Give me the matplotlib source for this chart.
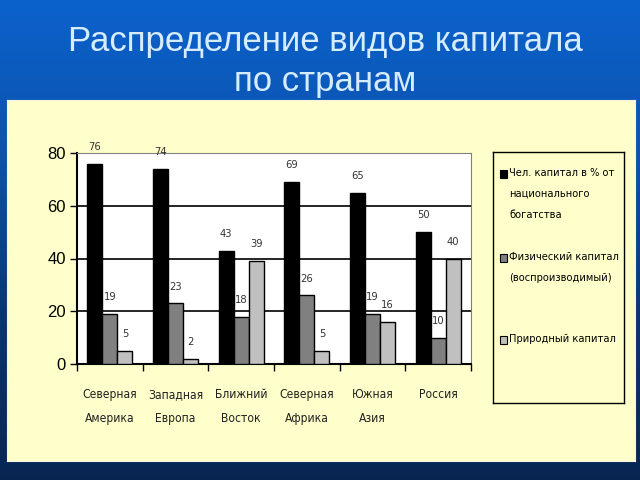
import numpy as np
import matplotlib.pyplot as plt
from matplotlib.patches import Rectangle
from matplotlib.colors import LinearSegmentedColormap
from matplotlib import font_manager

regions = ['Северная\nАмерика', 'Западная\nЕвропа', 'Ближний\nВосток',
           'Северная\nАфрика', 'Южная\nАзия', 'Россия']
human = [76, 74, 43, 69, 65, 50]
physical = [19, 23, 18, 26, 19, 10]
natural = [5, 2, 39, 5, 16, 40]
series_names = ['Чел. капитал в % от\nнационального\nбогатства',
                'Физический капитал\n(воспроизводимый)',
                'Природный капитал']
colors = ['#000000', '#808080', '#c0c0c0']

# pick a narrow face if one is installed (chart text is Arial Narrow-like)
fonts = font_manager.fontManager.ttflist
narrow = dict(family=['Liberation Sans', 'DejaVu Sans'])
scale = 0.72
if any(f.name == 'Liberation Sans Narrow' for f in fonts):
    narrow = dict(family=['Liberation Sans Narrow', 'DejaVu Sans'])
    scale = 0.9
elif any(f.name == 'DejaVu Sans' and f.stretch == 'condensed' for f in fonts):
    narrow = dict(family=['DejaVu Sans'], stretch='condensed')
    scale = 0.75

plt.rcParams['font.family'] = ['Liberation Sans', 'DejaVu Sans']

fig = plt.figure(figsize=(6.4, 4.8), dpi=100)

# blue slide background
bg = fig.add_axes([0, 0, 1, 1])
grad = np.linspace(0, 1, 256).reshape(-1, 1)
cmap = LinearSegmentedColormap.from_list('slide', ['#0c62cc', '#0b52ac', '#0a3472', '#082552'])
bg.imshow(grad, aspect='auto', cmap=cmap, extent=[0, 1, 0, 1])
bg.set_axis_off()

fig.text(0.508, 0.914, 'Распределение видов капитала', color='#d6ecff',
         fontsize=25, ha='center', va='center')
fig.text(0.508, 0.831, 'по странам', color='#d6ecff',
         fontsize=25, ha='center', va='center')

# cream panel
panel = fig.add_axes([7 / 640, 19 / 480, 628 / 640, 361 / 480])
panel.set_facecolor('#ffffcc')
panel.set_xticks([])
panel.set_yticks([])
for s in panel.spines.values():
    s.set_color('#f4f4e0')

ax = fig.add_axes([77 / 640, 116 / 480, 394 / 640, 211 / 480])
ax.set_facecolor('white')
x = np.arange(len(regions))
w = 0.23
for i, (vals, c) in enumerate(zip([human, physical, natural], colors)):
    bars = ax.bar(x + (i - 1) * w, vals, w, color=c, edgecolor='black', linewidth=1, zorder=3)
    for b, v in zip(bars, vals):
        ax.annotate(str(v), (b.get_x() + b.get_width() / 2, v), xytext=(0, 12),
                    textcoords='offset points', ha='center', va='center',
                    fontsize=8, color='#333333', **narrow)

ax.set_xlim(-0.5, len(regions) - 0.5)
ax.set_ylim(0, 80)
ax.set_yticks([0, 20, 40, 60, 80])
ax.tick_params(axis='y', length=5, width=1, labelsize=12, pad=3)
ax.yaxis.grid(True, color='black', linewidth=1.2, zorder=1)
ax.set_xticks(np.arange(len(regions) + 1) - 0.5)
ax.set_xticklabels([])
ax.tick_params(axis='x', which='major', length=5, width=1)
ax.set_xticks(x, minor=True)
ax.set_xticklabels(regions, minor=True, fontsize=11.5 * scale, linespacing=2.1,
                   color='#222222', **narrow)
ax.tick_params(axis='x', which='minor', length=0, pad=17)
ax.spines['left'].set_linewidth(1.5)
ax.spines['bottom'].set_linewidth(1.5)
ax.spines['top'].set_color('#808080')
ax.spines['right'].set_color('#808080')

# legend box
lg = fig.add_axes([493 / 640, 77 / 480, 131 / 640, 251 / 480])
lg.set_facecolor('#ffffcc')
lg.set_xlim(0, 131)
lg.set_ylim(251, 0)
lg.set_xticks([])
lg.set_yticks([])
for s in lg.spines.values():
    s.set_color('black')
    s.set_linewidth(1)
entry_y = [22, 106, 188]
for name, c, yy in zip(series_names, colors, entry_y):
    lg.add_patch(Rectangle((7, yy - 4), 7, 8, facecolor=c, edgecolor='black', linewidth=0.8))
    lg.text(16, yy - 6, name, va='top', ha='left', fontsize=10.5 * scale, linespacing=2.35,
            color='black', **narrow)

fig.savefig('out.png', dpi=100)
